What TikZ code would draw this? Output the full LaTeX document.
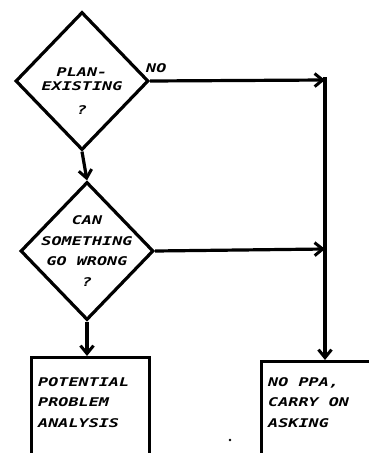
\documentclass[tikz,border=0pt]{standalone}
\usepackage{fontspec}
\newfontfamily\hand[FakeStretch=1.4]{DejaVu Sans Mono}
\usetikzlibrary{shapes.geometric,arrows.meta}
\tikzset{
  ink/.style={line width=3.2pt,black},
  lettering/.style={font=\hand\bfseries\itshape\fontsize{12}{20.5}\selectfont},
  decision/.style={diamond,draw,ink,inner sep=0pt,minimum width=133pt,minimum height=138pt},
  boxnode/.style={draw,ink,rectangle,inner sep=0pt},
  caption/.style={lettering,align=left,inner sep=0pt,anchor=north west},
  dtext/.style={lettering,align=center,inner sep=0pt},
  flow/.style={ink,-{Straight Barb[length=8pt,width=13pt,line width=3pt]}}
}
\begin{document}
\begin{tikzpicture}[x=1pt,y=-1pt]
  \useasboundingbox (0,0) rectangle (369,453);
  \begin{scope}
    \clip (0,0) rectangle (369,453);
    % decisions
    \node[decision] (d1) at (82,81) {};
    \node[decision] (d2) at (87,251) {};
    \node[dtext,font=\hand\bfseries\itshape\fontsize{12}{14}\selectfont] (q1) at (82,79) {PLAN-\\EXISTING};
    \node[dtext] (q1m) at (82,110) {?};
    \node[dtext] (q2) at (87,251) {CAN\\SOMETHING\\GO WRONG\\?};
    % outcome boxes (run past the lower edge)
    \node[boxnode,anchor=north west,minimum width=118pt,minimum height=110pt] (b1) at (30,356) {};
    \node[boxnode,anchor=north west,minimum width=130pt,minimum height=110pt] (b2) at (260,360) {};
    \node[caption] (t1) at (38,377) {POTENTIAL\\PROBLEM\\ANALYSIS};
    \node[caption] (t2) at (268,377) {NO PPA,\\CARRY ON\\ASKING};
    % junctions on the right-hand trunk
    \coordinate (j1) at (325,80);
    \coordinate (j2) at (325,249);
    % connectors
    \draw[flow] (d1.south) -- (d2.north);
    \draw[flow] (d2.south) -- (d2.south |- b1.north);
    \draw[flow] (d1.east) -- (j1);
    \draw[flow] (d2.east) -- (j2);
    \draw[ink] (j1) -- ++(0,-3);
    \draw[flow] (j1) -- (j1 |- b2.north);
    \node[lettering,anchor=west,inner sep=0pt] (no) at (146,68) {NO};
    \fill (230,440) circle (1.3pt);
  \end{scope}
\end{tikzpicture}
\end{document}
